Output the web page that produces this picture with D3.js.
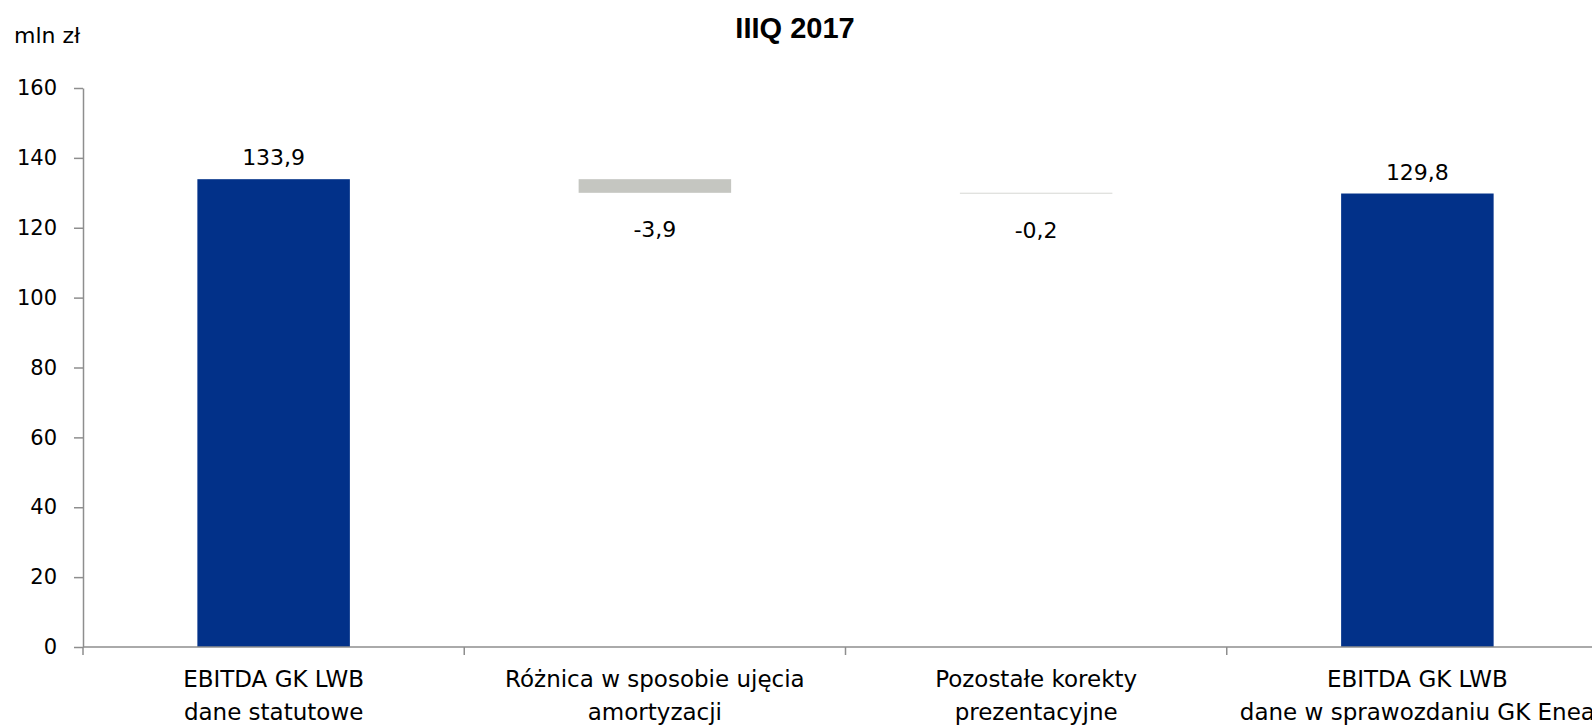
<!DOCTYPE html>
<html>
<head>
<meta charset="utf-8">
<script src="https://cdn.jsdelivr.net/npm/d3@7"></script>
<style>
  body { margin: 0; background: #fff; }
  text { font-family: "DejaVu Sans", sans-serif; fill: #000; }
</style>
</head>
<body>
<div class="chart"></div>
<script>
// data
var categories = [
  ["EBITDA GK LWB", "dane statutowe"],
  ["Różnica w sposobie ujęcia", "amortyzacji"],
  ["Pozostałe korekty", "prezentacyjne"],
  ["EBITDA GK LWB", "dane w sprawozdaniu GK Enea"]
];
var values = [133.9, -3.9, -0.2, 129.8];
var isTotal = [true, false, false, true];
var yTicks = [0, 20, 40, 60, 80, 100, 120, 140, 160];
var title = "IIIQ 2017";
var unit = "mln zł";

var width = 1592, height = 727;
var plotLeft = 83, plotRight = 1608, plotTop = 88, plotBottom = 647;

var svg = d3.select(".chart").append("svg")
            .attr("width", width)
            .attr("height", height);

var x = d3.scaleBand()
          .domain(d3.range(categories.length))
          .range([plotLeft, plotRight])
          .paddingInner(0.6)
          .paddingOuter(0.3);

var y = d3.scaleLinear()
          .domain([0, 160])
          .range([plotBottom, plotTop]);

// waterfall: the adjustments bridge from the first total down to the last one
var bars = values.map(function(v, i) { return { i: i, v: v, total: isTotal[i] }; });
bars[0].lo = 0; bars[0].hi = values[0];
bars[3].lo = 0; bars[3].hi = values[3];
bars[2].lo = values[3]; bars[2].hi = values[3] - values[2];
bars[1].lo = bars[2].hi; bars[1].hi = values[0];

var fmt = function(v) { return d3.format(".1f")(v).replace(".", ",").replace("−", "-"); };

// y axis
var yAxis = svg.append("g")
               .attr("transform", "translate(" + plotLeft + ",0)")
               .call(d3.axisLeft(y).tickValues(yTicks).tickSize(9).tickPadding(17).tickSizeOuter(0));
yAxis.select(".domain").attr("stroke", "#8e8e8e").attr("stroke-width", 1.5);
yAxis.selectAll(".tick line").attr("stroke", "#8e8e8e").attr("stroke-width", 1.5);
yAxis.selectAll(".tick text").style("font-family", "DejaVu Sans").style("font-size", "21px").attr("fill", "#000");

// bars
svg.selectAll("rect.bar")
   .data(bars)
   .enter().append("rect")
   .attr("class", "bar")
   .attr("x", function(d) { return x(d.i); })
   .attr("width", x.bandwidth())
   .attr("y", function(d) { return y(d.hi); })
   .attr("height", function(d) { return y(d.lo) - y(d.hi); })
   .style("fill", function(d) { return d.total ? "#023189" : "#c5c6c1"; });

// x axis line and boundary ticks
svg.append("line")
   .attr("x1", plotLeft).attr("x2", width)
   .attr("y1", y(0)).attr("y2", y(0))
   .attr("stroke", "#8e8e8e").attr("stroke-width", 1.5);

svg.selectAll("line.xtick")
   .data(d3.range(categories.length + 1))
   .enter().append("line")
   .attr("class", "xtick")
   .attr("x1", function(i) { return plotLeft + i * x.step(); })
   .attr("x2", function(i) { return plotLeft + i * x.step(); })
   .attr("y1", y(0)).attr("y2", y(0) + 8)
   .attr("stroke", "#8e8e8e").attr("stroke-width", 1.5);

// category labels
var cat = svg.selectAll("text.cat")
   .data(categories)
   .enter().append("text")
   .attr("class", "cat")
   .attr("text-anchor", "middle")
   .style("font-size", "23px");
cat.append("tspan")
   .attr("x", function(d, i) { return x(i) + x.bandwidth() / 2; })
   .attr("y", 687)
   .text(function(d) { return d[0]; });
cat.append("tspan")
   .attr("x", function(d, i) { return x(i) + x.bandwidth() / 2; })
   .attr("y", 720)
   .text(function(d) { return d[1]; });

// value labels
svg.selectAll("text.val")
   .data(bars)
   .enter().append("text")
   .attr("class", "val")
   .attr("text-anchor", "middle")
   .style("font-size", "22px")
   .attr("x", function(d) { return x(d.i) + x.bandwidth() / 2; })
   .attr("y", function(d) { return d.v >= 0 ? y(d.hi) - 14 : y(d.lo) + 44; })
   .text(function(d) { return fmt(d.v); });

// title and unit
svg.append("text")
   .attr("x", 795).attr("y", 38)
   .attr("text-anchor", "middle")
   .style("font-family", "Liberation Sans, Arial, sans-serif")
   .style("font-weight", "bold")
   .style("font-size", "29px")
   .text(title);

svg.append("text")
   .attr("x", 14).attr("y", 43)
   .style("font-size", "22px")
   .text(unit);
</script>
</body>
</html>
